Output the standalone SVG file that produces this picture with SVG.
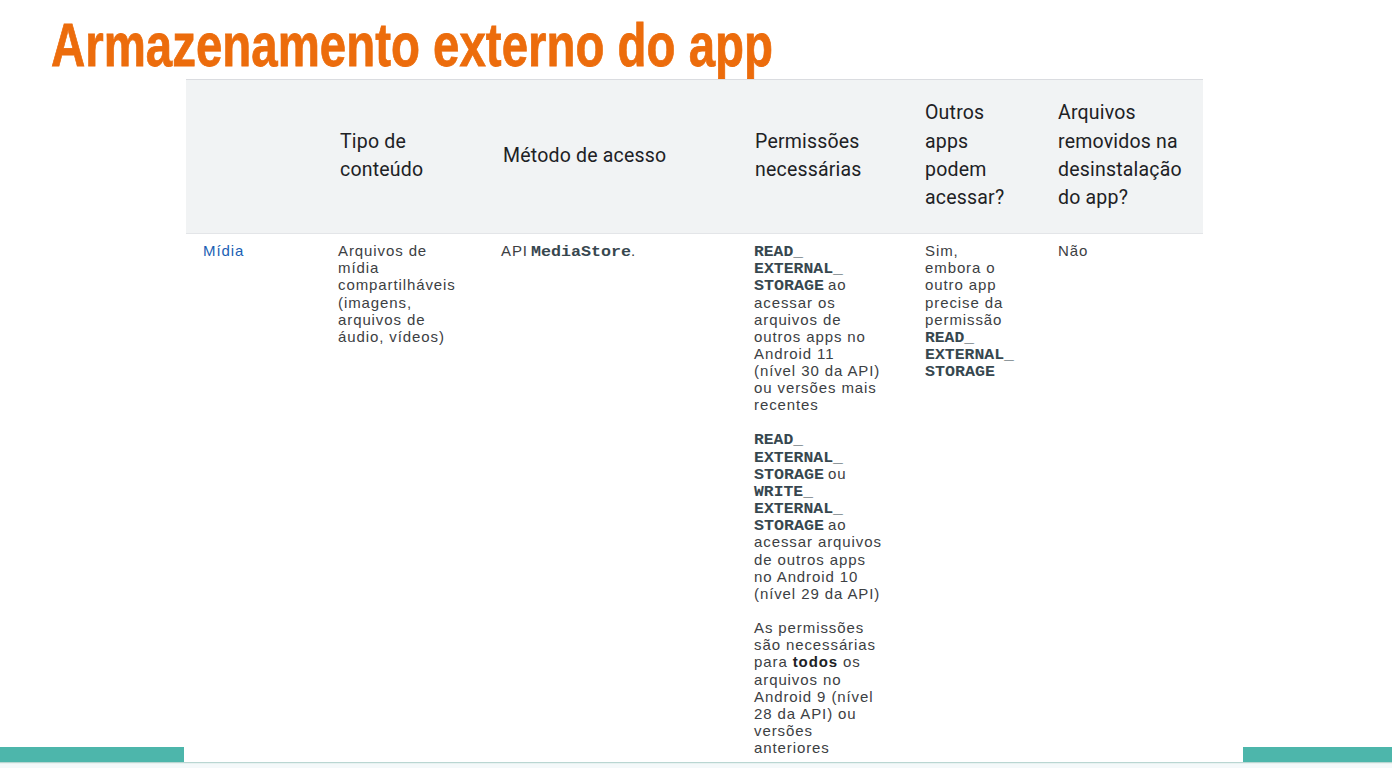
<svg xmlns="http://www.w3.org/2000/svg" width="1392" height="768" viewBox="0 0 1392 768">
<style>
.title{font-family:"Liberation Sans",Arial,sans-serif;font-weight:bold;font-size:62px;fill:#ec6c0c;stroke:#ec6c0c;stroke-width:0.8px}
.th{font-family:Roboto,"Liberation Sans",sans-serif;font-size:19.5px;letter-spacing:0.2px;fill:#202124}
.td{font-family:"Liberation Sans",Arial,sans-serif;font-size:15px;letter-spacing:0.9px;fill:#3c4043}
.code{font-family:"Liberation Mono","DejaVu Sans Mono",monospace;font-weight:bold;font-size:14.5px;fill:#37474f}
.link{fill:#1a5fb4}
.b{font-weight:bold;fill:#202124}
</style>
<rect x="0" y="0" width="1392" height="768" fill="#ffffff"/>
<g id="title">
<text class="title" x="51" y="66" textLength="722" lengthAdjust="spacingAndGlyphs">Armazenamento externo do app</text>
</g>
<g id="header">
<rect x="186" y="79" width="1017" height="154" fill="#f1f3f4"/>
<line x1="186" y1="79.5" x2="1203" y2="79.5" stroke="#dadce0"/>
<line x1="186" y1="233.5" x2="1203" y2="233.5" stroke="#e3e5e8"/>
<text class="th" x="340" y="148">Tipo de</text>
<text class="th" x="340" y="176">conteúdo</text>
<text class="th" x="503" y="162">Método de acesso</text>
<text class="th" x="755" y="148">Permissões</text>
<text class="th" x="755" y="176">necessárias</text>
<text class="th" x="925" y="119">Outros</text>
<text class="th" x="925" y="148">apps</text>
<text class="th" x="925" y="176">podem</text>
<text class="th" x="925" y="204">acessar?</text>
<text class="th" x="1058" y="119">Arquivos</text>
<text class="th" x="1058" y="148">removidos na</text>
<text class="th" x="1058" y="176">desinstalação</text>
<text class="th" x="1058" y="204">do app?</text>
</g>
<g id="row-midia">
<text class="td link" x="203" y="256">Mídia</text>
<text class="td" x="338" y="256">Arquivos de</text>
<text class="td" x="338" y="273">mídia</text>
<text class="td" x="338" y="290">compartilháveis</text>
<text class="td" x="338" y="308">(imagens,</text>
<text class="td" x="338" y="325">arquivos de</text>
<text class="td" x="338" y="342">áudio, vídeos)</text>
<text class="td" x="501" y="256">API</text>
<text class="code" x="531" y="256" textLength="100" lengthAdjust="spacingAndGlyphs">MediaStore</text>
<text class="td" x="631" y="256">.</text>
<text class="code" x="754" y="256" textLength="49" lengthAdjust="spacingAndGlyphs">READ_</text>
<text class="code" x="754" y="273" textLength="89" lengthAdjust="spacingAndGlyphs">EXTERNAL_</text>
<text class="code" x="754" y="290" textLength="70" lengthAdjust="spacingAndGlyphs">STORAGE</text>
<text class="td" x="828" y="290">ao</text>
<text class="td" x="754" y="308">acessar os</text>
<text class="td" x="754" y="325">arquivos de</text>
<text class="td" x="754" y="342">outros apps no</text>
<text class="td" x="754" y="359">Android 11</text>
<text class="td" x="754" y="376">(nível 30 da API)</text>
<text class="td" x="754" y="393">ou versões mais</text>
<text class="td" x="754" y="410">recentes</text>
<text class="code" x="754" y="444" textLength="49" lengthAdjust="spacingAndGlyphs">READ_</text>
<text class="code" x="754" y="462" textLength="89" lengthAdjust="spacingAndGlyphs">EXTERNAL_</text>
<text class="code" x="754" y="479" textLength="70" lengthAdjust="spacingAndGlyphs">STORAGE</text>
<text class="td" x="828" y="479">ou</text>
<text class="code" x="754" y="496" textLength="59" lengthAdjust="spacingAndGlyphs">WRITE_</text>
<text class="code" x="754" y="513" textLength="89" lengthAdjust="spacingAndGlyphs">EXTERNAL_</text>
<text class="code" x="754" y="530" textLength="70" lengthAdjust="spacingAndGlyphs">STORAGE</text>
<text class="td" x="828" y="530">ao</text>
<text class="td" x="754" y="547">acessar arquivos</text>
<text class="td" x="754" y="565">de outros apps</text>
<text class="td" x="754" y="582">no Android 10</text>
<text class="td" x="754" y="599">(nível 29 da API)</text>
<text class="td" x="754" y="633">As permissões</text>
<text class="td" x="754" y="650">são necessárias</text>
<text class="td" x="754" y="667">para <tspan class="b">todos</tspan> os</text>
<text class="td" x="754" y="685">arquivos no</text>
<text class="td" x="754" y="702">Android 9 (nível</text>
<text class="td" x="754" y="719">28 da API) ou</text>
<text class="td" x="754" y="736">versões</text>
<text class="td" x="754" y="753">anteriores</text>
<text class="td" x="925" y="256">Sim,</text>
<text class="td" x="925" y="273">embora o</text>
<text class="td" x="925" y="290">outro app</text>
<text class="td" x="925" y="308">precise da</text>
<text class="td" x="925" y="325">permissão</text>
<text class="code" x="925" y="342" textLength="49" lengthAdjust="spacingAndGlyphs">READ_</text>
<text class="code" x="925" y="359" textLength="89" lengthAdjust="spacingAndGlyphs">EXTERNAL_</text>
<text class="code" x="925" y="376" textLength="70" lengthAdjust="spacingAndGlyphs">STORAGE</text>
<text class="td" x="1058" y="256">Não</text>
</g>
<g id="footer">
<rect x="0" y="747" width="184" height="15" fill="#4db6ab"/>
<rect x="1243" y="747" width="149" height="15" fill="#4db6ab"/>
<rect x="0" y="762" width="1392" height="1.5" fill="#b9d6d2"/>
<rect x="0" y="763.5" width="1392" height="4.5" fill="#f4f9fa"/>
</g>
</svg>
